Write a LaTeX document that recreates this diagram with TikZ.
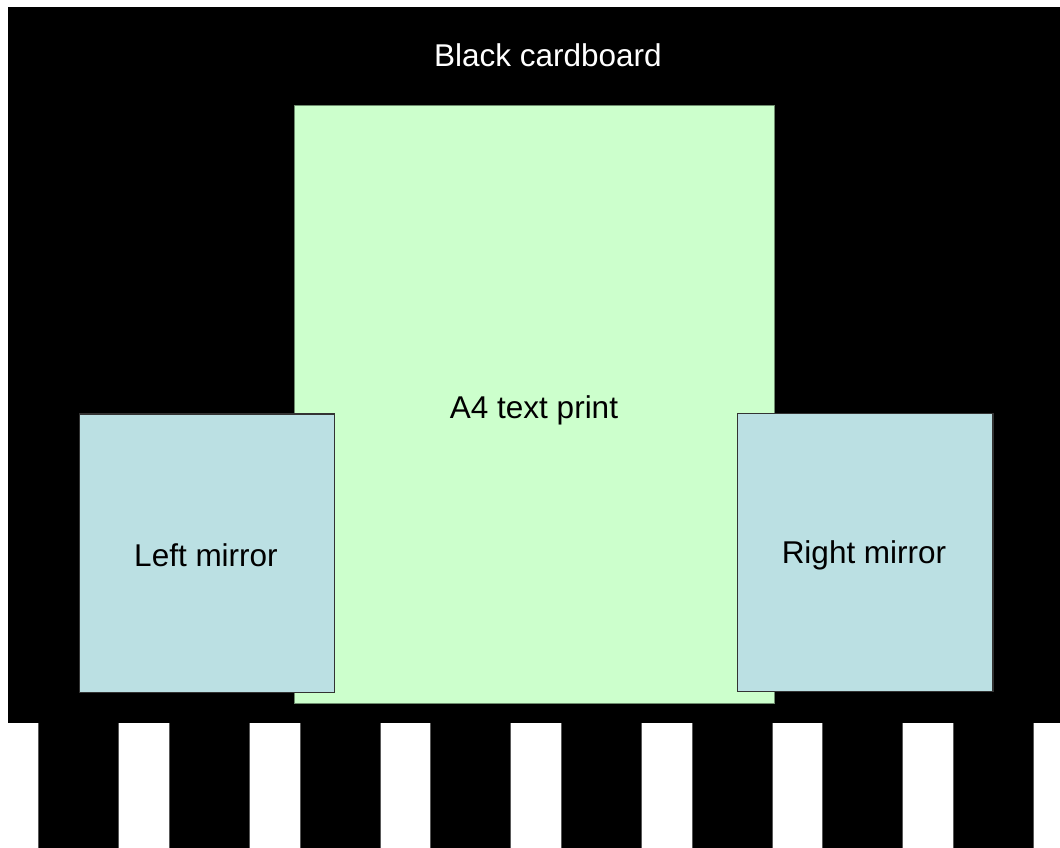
\documentclass[tikz,border=0pt]{standalone}
\usepackage{fontspec}
\setmainfont{Liberation Sans}
\definecolor{printgreen}{HTML}{CCFFCC}
\definecolor{mirrorblue}{HTML}{BBE0E3}
\definecolor{printedge}{HTML}{6E8C6E}
\begin{document}
\begin{tikzpicture}[x=1pt,y=-1pt,
  lbl/.style={font=\fontsize{31.5}{38}\selectfont},
  sheet/.style={fill=printgreen,draw=printedge,line width=0.8pt,inner sep=0pt,anchor=north west},
  mirror/.style={fill=mirrorblue,draw=black!80,line width=1.2pt,inner sep=0pt,anchor=north west},
  stripe/.style={fill=black,draw=black!65,line width=0.7pt}]
\useasboundingbox (0,0) rectangle (1060,848);
\fill[white] (0,0) rectangle (1060,848);
% cardboard
\node[fill=black,inner sep=0pt,anchor=north west,minimum width=1052pt,minimum height=716pt] (card) at (8,7) {};
\node[lbl,text=white] (cardlbl) at (548,55) {Black cardboard};
% stripes
\foreach \i in {0,...,7}{
  \fill[black] ({38.5+130.7*\i},723) rectangle ({118.5+130.7*\i},848);
  \draw[black!65,line width=0.7pt] ({38.5+130.7*\i},723) -- ({38.5+130.7*\i},848)
        ({118.5+130.7*\i},723) -- ({118.5+130.7*\i},848);
}
% A4 print
\node[sheet,minimum width=480pt,minimum height=598pt] (print) at (294.3,105.3) {};
\node[lbl] (printlbl) at (534,410) {A4 text print};
% mirrors
\node[mirror,minimum width=255.3pt,minimum height=278.4pt] (left) at (78.7,413.3) {};
\node[lbl] (leftlbl) at (206,555) {Left mirror};
\node[mirror,minimum width=255.6pt,minimum height=278.3pt] (right) at (736.7,412.7) {};
\node[lbl] (rightlbl) at (864,555) {Right mirror};
\end{tikzpicture}
\end{document}
